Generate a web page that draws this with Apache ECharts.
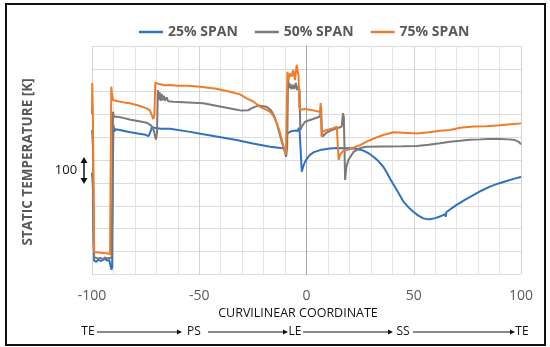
<!DOCTYPE html>
<html>
<head>
<meta charset="utf-8">
<script src="https://cdn.jsdelivr.net/npm/echarts@6/dist/echarts.min.js"></script>
<style>
html,body{margin:0;padding:0;background:#fff;}
#chart{width:550px;height:347px;}
</style>
</head>
<body>
<div id="chart"></div>
<script>
// Legend / series names
const seriesNames = ['25% SPAN', '50% SPAN', '75% SPAN'];
// X tick labels shown: -100, -50, 0, 50, 100
const xTicks = [-100, -50, 0, 50, 100];
// Position labels along curvilinear coordinate
const stationLabels = ['TE', 'PS', 'LE', 'SS', 'TE'];
const yTitle = 'STATIC TEMPERATURE [K]';
const xTitle = 'CURVILINEAR COORDINATE';
const scaleLabel = '100';

// Static temperature (arbitrary offset, one grid division = 100 K)
const span25 = [
  [-100, 445], [-99.8, 420], [-99.6, 380], [-99.3, 150], [-99.0, 60], [-98.0, 55], [-97.0, 65], [-96.0, 58],
  [-95.0, 62], [-94.0, 68], [-93.0, 60], [-92.0, 63], [-91.3, 55], [-90.9, 20], [-90.6, 35], [-90.3, 450],
  [-90.0, 654], [-89.6, 625], [-89.0, 635], [-87, 632], [-85, 628], [-82, 622], [-78, 616], [-75, 611],
  [-73.6, 605], [-73.0, 600], [-72.5, 630], [-72.1, 645], [-71, 642], [-68, 638], [-63.6, 638], [-55, 625],
  [-48.1, 613], [-40, 600], [-32.6, 588], [-25, 573], [-17, 559], [-12, 553], [-10.3, 552], [-9.5, 515],
  [-9.0, 617], [-8.5, 622], [-7, 627], [-5, 630], [-4, 628], [-3.6, 642], [-3.2, 628], [-2.6, 620],
  [-2.2, 449], [-1.6, 470], [-0.7, 493], [0.5, 510], [1.6, 523], [3.5, 535], [6.3, 544], [10.9, 551],
  [14, 553], [17.2, 552], [20.3, 552], [23, 550], [25, 546], [27, 540], [29, 530], [31.2, 515],
  [33.5, 496], [35.8, 471], [37.5, 445], [38.9, 420], [40.5, 394], [42.1, 369], [43.7, 343], [45.2, 318],
  [47.5, 294], [49.8, 274], [52, 258], [54.5, 245], [56, 242], [57.6, 241], [60, 246], [62.2, 253],
  [64.6, 264], [64.9, 252], [65.2, 272], [67.5, 288], [70, 304], [74, 327], [77.8, 347], [81.5, 366],
  [85.5, 384], [89.5, 398], [93.3, 409], [97, 419], [99.5, 425], [100, 428]
];
const span50 = [
  [-100, 632], [-99.8, 600], [-99.6, 566], [-99.3, 300], [-99.0, 75], [-98, 72], [-97, 68], [-96, 72],
  [-95, 66], [-94, 74], [-93, 70], [-92, 72], [-91.3, 78], [-90.9, 70], [-90.5, 300], [-90.2, 712],
  [-89.8, 690], [-88, 690], [-85, 684], [-82, 677], [-78, 670], [-74.6, 664], [-72.5, 652], [-71.2, 630],
  [-70.2, 590], [-69.7, 620], [-69.3, 807], [-68.9, 765], [-68.5, 798], [-68.0, 760], [-67.5, 790], [-67.0, 762],
  [-66.5, 782], [-65.9, 760], [-65.2, 775], [-64.5, 758], [-63.6, 765], [-62, 756], [-55, 753], [-48.1, 749],
  [-40.3, 735], [-33, 722], [-30.2, 717], [-27.1, 719], [-25, 730], [-22.5, 739], [-18.6, 734], [-16.5, 718],
  [-14.9, 690], [-13.5, 650], [-12.6, 617], [-11.2, 570], [-10.3, 544], [-9.5, 523], [-9.0, 560], [-8.6, 866],
  [-8.2, 815], [-7.6, 835], [-7.0, 811], [-6.3, 830], [-5.7, 812], [-5.0, 838], [-4.4, 807], [-3.8, 825],
  [-3.2, 805], [-2.9, 632], [-2.0, 650], [-0.7, 668], [3, 680], [6.0, 690], [6.4, 700], [6.8, 735],
  [7.2, 620], [7.5, 603], [9, 618], [11, 628], [13, 636], [15, 642], [16.4, 647], [17.0, 705],
  [17.4, 690], [18.0, 413], [18.6, 470], [19.5, 500], [21.8, 535], [25, 553], [28, 559], [35, 560],
  [45, 561], [51.4, 562], [57, 567], [62.2, 574], [66.9, 581], [71.6, 585], [76, 589], [80.9, 591],
  [85, 593], [90.2, 593], [94, 591], [97.2, 588], [99, 580], [100, 569]
];
const span75 = [
  [-100, 700], [-99.9, 838], [-99.6, 720], [-99.3, 400], [-99.0, 98], [-97, 95], [-95, 93], [-93, 92],
  [-91.6, 88], [-91.3, 85], [-91.0, 822], [-90.6, 780], [-90.2, 763], [-88, 758], [-85, 753], [-82.3, 749],
  [-78, 738], [-74.5, 727], [-73, 718], [-72.2, 698], [-71.4, 680], [-70.9, 700], [-70.5, 839], [-69.8, 836],
  [-68.3, 832], [-66, 828], [-63.6, 829], [-60, 826], [-55, 826], [-49.6, 822], [-42, 813], [-35.7, 800],
  [-31, 788], [-27.9, 771], [-24.5, 755], [-21.7, 734], [-19, 722], [-17, 712], [-15.5, 695], [-13.9, 663],
  [-12.5, 625], [-11.5, 588], [-10.5, 553], [-9.6, 523], [-9.2, 515], [-8.9, 887], [-8.5, 851], [-7.7, 880],
  [-6.9, 866], [-6.2, 895], [-5.4, 851], [-4.6, 917], [-4.1, 921], [-3.7, 870], [-3.4, 734], [-3.0, 720],
  [-1, 724], [1, 722], [3, 718], [5, 714], [5.8, 722], [6.3, 712], [6.6, 750], [7.0, 603],
  [7.5, 625], [10, 633], [12.5, 640], [14.1, 647], [14.6, 655], [15.0, 501], [15.6, 523], [17, 540],
  [18.7, 544], [20.3, 549], [25, 566], [28, 581], [32, 597], [35.8, 610], [40.5, 622], [45, 620],
  [51.4, 617], [57, 622], [62.2, 629], [62.5, 634], [62.8, 628], [66.9, 632], [71.6, 642], [77.8, 647],
  [84, 649], [90.2, 653], [95, 657], [99.5, 661], [100, 662]
];

const colors = ['#2e72c2', '#7a7a7a', '#f07c2a'];
const FONT = 'Open Sans';

function arrowRight(x1, x2, y) {
  return [
    { type: 'line', shape: { x1: x1, y1: y, x2: x2 - 4, y2: y }, style: { stroke: '#111', lineWidth: 1 } },
    { type: 'polygon', shape: { points: [[x2, y], [x2 - 5, y - 2.5], [x2 - 5, y + 2.5]] }, style: { fill: '#111' } }
  ];
}

const stationX = [88, 194, 295, 403, 522];
const arrowSpans = [[97, 182], [208, 288], [303, 393], [413, 515]];
const graphics = [
  { type: 'rect', shape: { x: 6, y: 4, width: 539, height: 341 }, style: { fill: null, stroke: '#111', lineWidth: 2 }, z: 100 },
  { type: 'text', x: 28, y: 162, rotation: Math.PI / 2, style: { text: yTitle, x: 0, y: 0, textAlign: 'center', textVerticalAlign: 'middle', font: 'bold 13.5px "Open Sans"', fill: '#595959' } },
  { type: 'text', style: { text: xTitle, x: 298, y: 313, textAlign: 'center', textVerticalAlign: 'middle', font: '12.5px "Open Sans"', fill: '#111' } },
  { type: 'text', style: { text: scaleLabel, x: 66, y: 170, textAlign: 'center', textVerticalAlign: 'middle', font: '13px "Open Sans"', fill: '#111' } },
  { type: 'line', shape: { x1: 84, y1: 162, x2: 84, y2: 179 }, style: { stroke: '#111', lineWidth: 1.5 } },
  { type: 'polygon', shape: { points: [[84, 157], [80.5, 163], [87.5, 163]] }, style: { fill: '#111' } },
  { type: 'polygon', shape: { points: [[84, 184], [80.5, 178], [87.5, 178]] }, style: { fill: '#111' } }
];
stationLabels.forEach(function (t, i) {
  graphics.push({ type: 'text', style: { text: t, x: stationX[i], y: 332, textAlign: 'center', textVerticalAlign: 'middle', font: '12px "Open Sans"', fill: '#111' } });
});
arrowSpans.forEach(function (s) { arrowRight(s[0], s[1], 332).forEach(function (g) { graphics.push(g); }); });

const chart = echarts.init(document.getElementById('chart'), null, { renderer: 'canvas' });
chart.setOption({
  animation: false,
  backgroundColor: '#fff',
  color: colors,
  textStyle: { fontFamily: FONT },
  legend: {
    data: seriesNames,
    left: 139,
    top: 24,
    padding: 0,
    icon: 'rect',
    itemWidth: 24,
    itemHeight: 2.5,
    itemGap: 17,
    textStyle: { color: '#595959', fontSize: 14, fontWeight: 'bold', fontFamily: FONT, lineHeight: 16 }
  },
  grid: { left: 92, right: 29, top: 46, bottom: 72.7, containLabel: false },
  xAxis: {
    type: 'value',
    min: -100, max: 100, interval: 50,
    axisLine: { show: false },
    axisTick: { show: false },
    axisLabel: {
      color: '#595959', fontSize: 14, margin: 15, fontFamily: FONT,
      formatter: function (v) { return xTicks.indexOf(v) >= 0 ? String(v) : ''; }
    },
    splitLine: { show: true, lineStyle: { color: '#d2d2d2', width: 1 } },
    minorTick: { show: false, splitNumber: 5 },
    minorSplitLine: { show: true, lineStyle: { color: '#e4e4e4', width: 1 } }
  },
  yAxis: {
    type: 'value',
    min: 0, max: 1000, interval: 100,
    axisLine: { show: true, onZero: true, lineStyle: { color: '#a6a6a6', width: 1 } },
    axisTick: { show: false },
    axisLabel: { show: false },
    splitLine: { show: true, lineStyle: { color: '#dcdcdc', width: 1 } }
  },
  series: [
    { name: seriesNames[0], type: 'line', data: span25, showSymbol: false, symbol: 'none', lineStyle: { width: 2 }, z: 2 },
    { name: seriesNames[1], type: 'line', data: span50, showSymbol: false, symbol: 'none', lineStyle: { width: 2 }, z: 3 },
    { name: seriesNames[2], type: 'line', data: span75, showSymbol: false, symbol: 'none', lineStyle: { width: 2 }, z: 4 }
  ],
  graphic: { elements: graphics }
});
</script>
</body>
</html>
